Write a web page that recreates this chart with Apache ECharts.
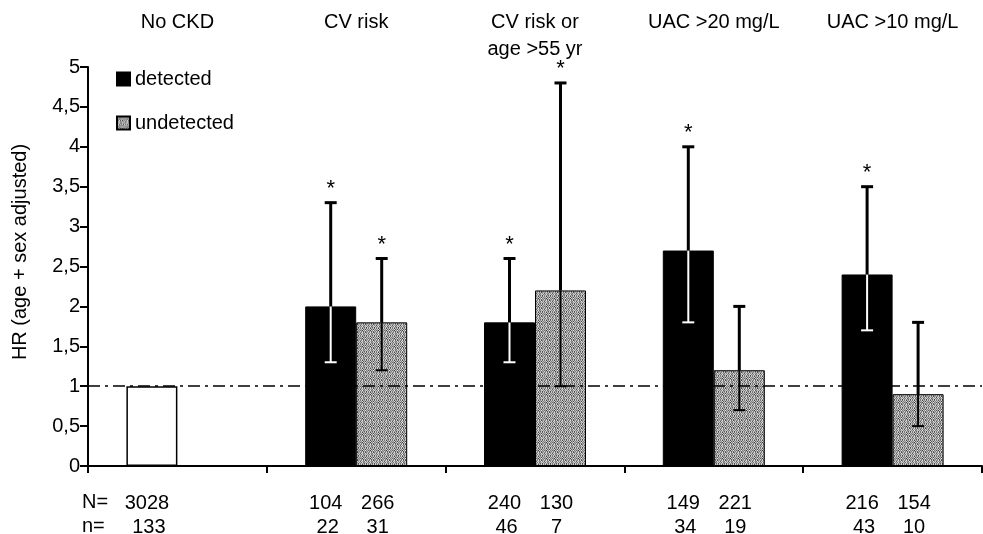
<!DOCTYPE html>
<html>
<head>
<meta charset="utf-8">
<script src="https://cdn.jsdelivr.net/npm/echarts@6/dist/echarts.min.js"></script>
<style>
  html, body { margin: 0; padding: 0; background: #fff; }
  #chart { width: 983px; height: 534px; }
</style>
</head>
<body>
<div id="chart"></div>
<script>
// ==================== 数据 ====================

const categories = ['No CKD', 'CV risk', 'CV risk or\nage >55 yr', 'UAC >20 mg/L', 'UAC >10 mg/L'];
const yTicks = [0, 0.5, 1, 1.5, 2, 2.5, 3, 3.5, 4, 4.5, 5];
const yTitle = 'HR (age + sex adjusted)';

// HR values (first one is the No CKD reference)
const detected = [1, 2.0, 1.8, 2.7, 2.4];
const detectedLow = [null, 1.3, 1.3, 1.8, 1.7];
const detectedHigh = [null, 3.3, 2.6, 4.0, 3.5];
const detectedStar = [false, true, true, true, true];

const undetected = [null, 1.8, 2.2, 1.2, 0.9];
const undetectedLow = [null, 1.2, 1.0, 0.7, 0.5];
const undetectedHigh = [null, 2.6, 4.8, 2.0, 1.8];
const undetectedStar = [false, true, true, false, false];

// N= / n= rows under each bar
const bigNDetected = ['3028', '104', '240', '149', '216'];
const bigNUndetected = [null, '266', '130', '221', '154'];
const smallNDetected = ['133', '22', '46', '34', '43'];
const smallNUndetected = [null, '31', '7', '19', '10'];

// ==================== 样式 ====================

const FONT = '"Liberation Sans", Arial, sans-serif';
const FS = 20;
const BAR_W = 51;

// dotted grey fill of the "undetected" bars
function makeGreyPattern() {
    const shades = [
        '7c4b8c6c', 'b8d6a4c8', '6a3c8e7a', 'c7c5b6a8',
        '98d6c49a', '5c9a7d8c', 'b7e69ac8', '7c8a6c4c'
    ];
    const c = document.createElement('canvas');
    c.width = 8; c.height = 8;
    const ctx = c.getContext('2d');
    shades.forEach((row, y) => {
        for (let x = 0; x < 8; x++) {
            const v = parseInt(row[x], 16) * 17;
            ctx.fillStyle = `rgb(${v},${v},${v})`;
            ctx.fillRect(x, y, 1, 1);
        }
    });
    return { image: c, repeat: 'repeat' };
}
const greyFill = makeGreyPattern();

// ==================== 系列数据 ====================

function buildErrorData(values, lows, highs, stars) {
    return values.map((v, i) => (v == null || lows[i] == null)
        ? null
        : [i, v, lows[i], highs[i], stars[i] ? 1 : 0]).filter(d => d);
}

const detErr = buildErrorData(detected, detectedLow, detectedHigh, detectedStar);
const undetErr = buildErrorData(undetected, undetectedLow, undetectedHigh, undetectedStar);

function errorBarRenderer(offset, innerColor) {
    return function (params, api) {
        const cat = api.value(0);
        const top = api.coord([cat, api.value(1)]);
        const lo = api.coord([cat, api.value(2)]);
        const hi = api.coord([cat, api.value(3)]);
        const x = top[0] + offset;
        const cap = 6;
        const children = [
            { type: 'line', shape: { x1: x, y1: lo[1], x2: x, y2: top[1] },
              style: { stroke: innerColor, lineWidth: 2 } },
            { type: 'line', shape: { x1: x - cap, y1: lo[1], x2: x + cap, y2: lo[1] },
              style: { stroke: innerColor, lineWidth: 2 } },
            { type: 'line', shape: { x1: x, y1: top[1], x2: x, y2: hi[1] },
              style: { stroke: '#000', lineWidth: 3 } },
            { type: 'line', shape: { x1: x - cap, y1: hi[1], x2: x + cap, y2: hi[1] },
              style: { stroke: '#000', lineWidth: 3 } }
        ];
        if (api.value(4)) {
            children.push({
                type: 'text', x: x, y: hi[1] - 3,
                style: { text: '*', font: '22px ' + FONT, fill: '#000',
                         align: 'center', verticalAlign: 'bottom' }
            });
        }
        return { type: 'group', children: children };
    };
}

const countData = categories.map((c, i) => [i, 0]);

function countRenderer(params, api) {
    const i = api.value(0);
    const base = api.coord([i, 0]);
    const children = [];
    const put = (txt, dx, dy) => {
        if (txt == null) return;
        children.push({
            type: 'text', x: base[0] + dx, y: base[1] + dy,
            style: { text: txt, font: FS + 'px ' + FONT, fill: '#000',
                     align: 'center', verticalAlign: 'middle' }
        });
    };
    put(bigNDetected[i], -BAR_W / 2 - 5, 37);
    put(smallNDetected[i], -BAR_W / 2 - 3, 61);
    put(bigNUndetected[i], BAR_W / 2 - 4, 37);
    put(smallNUndetected[i], BAR_W / 2 - 4, 61);
    return { type: 'group', children: children };
}

// ==================== 图表 ====================

const chart = echarts.init(document.getElementById('chart'));

chart.setOption({
    animation: false,
    backgroundColor: '#fff',
    textStyle: { fontFamily: FONT },
    grid: { left: 88, right: 1, top: 67, bottom: 68, containLabel: false, outerBoundsMode: 'none' },
    legend: {
        data: ['detected', 'undetected'],
        orient: 'vertical',
        left: 111, top: 64,
        itemWidth: 13, itemHeight: 13, itemGap: 24,
        icon: 'rect',
        textStyle: { fontSize: FS, lineHeight: 20, color: '#000', fontFamily: FONT }
    },
    xAxis: [{
        type: 'category',
        data: categories,
        position: 'bottom',
        axisLine: { lineStyle: { color: '#000', width: 2 } },
        axisTick: { show: true, length: 7, lineStyle: { color: '#000', width: 2 } },
        axisLabel: { show: false }
    }, {
        type: 'category',
        data: categories,
        position: 'top',
        axisLine: { show: false },
        axisTick: { show: false },
        axisLabel: {
            fontSize: FS, color: '#000', fontFamily: FONT,
            lineHeight: 27, verticalAlign: 'top', margin: 58
        }
    }],
    yAxis: {
        type: 'value',
        min: yTicks[0], max: yTicks[yTicks.length - 1], interval: 0.5,
        axisLine: { show: true, lineStyle: { color: '#000', width: 2 } },
        axisTick: { show: true, length: 8, lineStyle: { color: '#000', width: 2 } },
        axisLabel: {
            fontSize: FS, color: '#000', margin: 8,
            formatter: v => String(v).replace('.', ',')
        },
        splitLine: { show: false }
    },
    series: [{
        name: 'detected',
        type: 'bar',
        z: 3,
        barWidth: BAR_W, barGap: '0%',
        itemStyle: { color: '#000', borderColor: '#000', borderWidth: 1 },
        data: detected.map((v, i) => i === 0
            ? { value: v, itemStyle: { color: '#fff', borderColor: '#000', borderWidth: 1.5 } }
            : v)
    }, {
        name: 'undetected',
        type: 'bar',
        z: 1,
        barWidth: BAR_W, barGap: '0%',
        itemStyle: { color: greyFill, borderColor: '#000', borderWidth: 1 },
        data: undetected.map(v => v == null ? '-' : v)
    }, {
        name: 'ref',
        type: 'line',
        z: 2,
        data: [],
        markLine: {
            silent: true, symbol: 'none',
            label: { show: false },
            lineStyle: { color: '#000', width: 1.5, type: [12, 5, 3, 5] },
            data: [{ yAxis: 1 }]
        }
    }, {
        name: 'detErr',
        type: 'custom',
        z: 5,
        renderItem: errorBarRenderer(-BAR_W / 2, '#fff'),
        data: detErr
    }, {
        name: 'undetErr',
        type: 'custom',
        z: 5,
        renderItem: errorBarRenderer(BAR_W / 2, '#000'),
        data: undetErr
    }, {
        name: 'counts',
        type: 'custom',
        z: 5,
        clip: false,
        renderItem: countRenderer,
        data: countData
    }],
    graphic: [
        { type: 'text', x: 20, y: 252, rotation: Math.PI / 2,
          style: { text: yTitle, font: FS + 'px ' + FONT, fill: '#000', align: 'center', verticalAlign: 'middle' } },
        { type: 'text', left: 82, top: 492, style: { text: 'N=', font: FS + 'px ' + FONT, fill: '#000' } },
        { type: 'text', left: 82, top: 516, style: { text: 'n=', font: FS + 'px ' + FONT, fill: '#000' } }
    ]
});
</script>
</body>
</html>
